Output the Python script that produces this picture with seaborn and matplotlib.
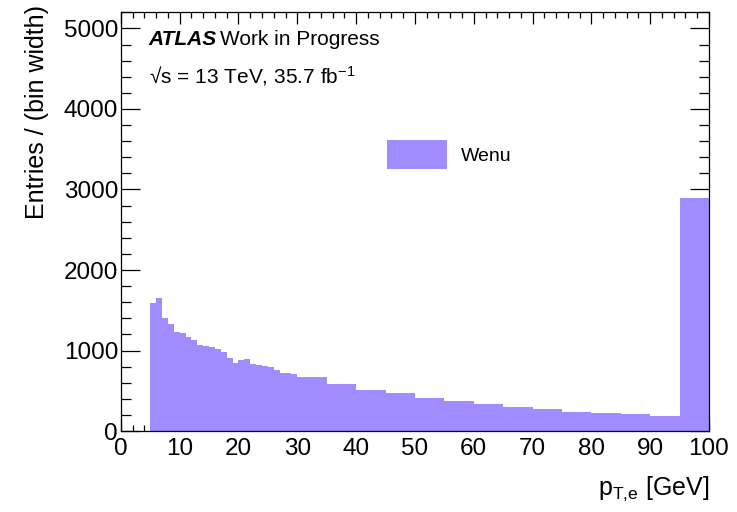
import numpy as np
import pandas as pd
import matplotlib
matplotlib.use("Agg")
import matplotlib.pyplot as plt
from matplotlib.ticker import MultipleLocator
import seaborn as sns

# bin edges in pT [GeV]: 1 GeV bins from 5 to 30, 5 GeV bins up to 100
bin_edges = [5, 6, 7, 8, 9, 10, 11, 12, 13, 14, 15, 16, 17, 18, 19, 20,
             21, 22, 23, 24, 25, 26, 27, 28, 29, 30,
             35, 40, 45, 50, 55, 60, 65, 70, 75, 80, 85, 90, 95, 100]
# entries / (bin width)
wenu_values = [1596, 1654, 1405, 1335, 1235, 1223, 1169, 1132, 1066, 1053,
               1041, 1024, 983, 912, 842, 883, 895, 837, 817, 804,
               792, 759, 717, 721, 713,
               671, 589, 514, 469, 415, 369, 342, 302, 270, 240,
               220, 207, 183, 2894]
sample_name = "Wenu"
fill_color = "#a08bff"


def build_frame():
    edges = np.array(bin_edges, dtype=float)
    centers = 0.5 * (edges[:-1] + edges[1:])
    return pd.DataFrame({"pt": centers, "w": wenu_values})


def make_plot(df):
    sns.set_style("ticks")
    plt.rcParams["font.family"] = ["Liberation Sans", "DejaVu Sans"]
    plt.rcParams["mathtext.default"] = "regular"
    plt.rcParams["text.color"] = "black"
    plt.rcParams["axes.labelcolor"] = "black"

    fig = plt.figure(figsize=(7.37, 5.12), dpi=100)
    ax = fig.add_axes([0.164, 0.158, 0.798, 0.818])

    sns.histplot(data=df, x="pt", weights="w", bins=bin_edges,
                 element="step", fill=True, color=fill_color, alpha=1.0,
                 linewidth=0, label=sample_name, ax=ax)

    ax.set_xlim(0, 100)
    ax.set_ylim(0, 5200)

    # ROOT style ticks on all four sides, pointing inward
    ax.xaxis.set_major_locator(MultipleLocator(10))
    ax.xaxis.set_minor_locator(MultipleLocator(2))
    ax.yaxis.set_major_locator(MultipleLocator(1000))
    ax.yaxis.set_minor_locator(MultipleLocator(200))
    ax.tick_params(axis="both", which="both", direction="in",
                   top=True, right=True, color="black", width=0.9,
                   labelsize=17.5, labelcolor="black")
    ax.tick_params(axis="x", which="major", length=8.6, pad=5)
    ax.tick_params(axis="x", which="minor", length=4.3)
    ax.tick_params(axis="y", which="major", length=13.5, pad=2)
    ax.tick_params(axis="y", which="minor", length=7)
    for sp in ax.spines.values():
        sp.set_color("black")
        sp.set_linewidth(0.9)

    ax.set_ylabel("Entries / (bin width)", fontsize=18, loc="top")
    ax.yaxis.set_label_coords(-0.122, 1.017)
    ax.set_xlabel(r"p$_{T{,}e}$ [GeV]", fontsize=18, loc="right")
    ax.xaxis.set_label_coords(1.0, -0.105)

    ax.text(0.047, 0.921, "ATLAS", transform=ax.transAxes, fontsize=15,
            fontweight="bold", fontstyle="italic", va="baseline")
    ax.text(0.169, 0.921, "Work in Progress", transform=ax.transAxes,
            fontsize=15, va="baseline")
    ax.text(0.047, 0.830, "\u221as = 13 TeV, 35.7 fb$^{-1}$",
            transform=ax.transAxes, fontsize=15, va="baseline")

    ax.legend(loc="center left", bbox_to_anchor=(0.452, 0.66),
              frameon=False, fontsize=14, handlelength=3.1,
              handleheight=1.95, handletextpad=0.72, borderpad=0,
              borderaxespad=0)

    fig.savefig("out.png", dpi=100)


def main():
    df = build_frame()
    make_plot(df)


if __name__ == "__main__":
    main()
